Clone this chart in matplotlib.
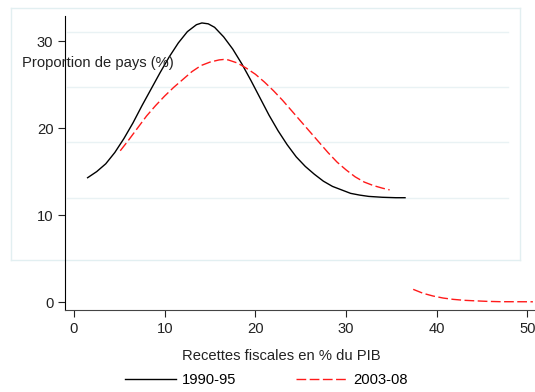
import matplotlib
matplotlib.use("Agg")
import matplotlib.pyplot as plt
from matplotlib.lines import Line2D

plt.rcParams['font.family'] = ['Liberation Sans', 'DejaVu Sans']

# 1990-95 curve (black, solid)
x_9095 = [1.5, 2.5, 3.5, 4.5, 5.5, 6.5, 7.5, 8.5, 9.5, 10.5, 11.5, 12.5, 13.5,
          14.1, 14.8, 15.5, 16.5, 17.5, 18.5, 19.5, 20.5, 21.5, 22.5, 23.5,
          24.5, 25.5, 26.5, 27.5, 28.5, 29.5, 30.5, 31.5, 32.5, 34.0, 35.5, 36.5]
y_9095 = [14.3, 15.0, 15.9, 17.2, 18.8, 20.6, 22.6, 24.5, 26.4, 28.2, 29.8, 31.1, 31.9,
          32.1, 32.0, 31.6, 30.5, 29.1, 27.4, 25.5, 23.5, 21.5, 19.7, 18.1,
          16.7, 15.6, 14.7, 13.9, 13.3, 12.9, 12.5, 12.3, 12.15, 12.05, 12.0, 12.0]

# 2003-08 curve (red, dashed)
x_0308 = [5.1, 6, 7, 8, 9, 10, 11, 12, 13, 14, 15, 16, 16.5, 17, 18, 19, 20, 21,
          22, 23, 24, 25, 26, 27, 28, 29, 30, 31, 32, 33, 34, 34.8]
y_0308 = [17.4, 18.6, 20.0, 21.4, 22.6, 23.7, 24.7, 25.6, 26.5, 27.2, 27.6, 27.85,
          27.9, 27.85, 27.5, 26.9, 26.2, 25.3, 24.3, 23.2, 22.0, 20.8, 19.6, 18.4,
          17.2, 16.1, 15.2, 14.4, 13.8, 13.4, 13.1, 12.9]

# 2003-08 tail near zero
x_tail = [37.4, 38.5, 39.6, 40.7, 41.8, 43.0, 44.0, 45.5, 47.0, 50.6]
y_tail = [1.46, 1.0, 0.69, 0.46, 0.31, 0.2, 0.15, 0.08, 0.04, 0.03]

x_ticks = [0, 10, 20, 30, 40, 50]
y_ticks = [0, 10, 20, 30]
grid_levels = [0.246, 0.467, 0.685, 0.904]

W, H = 535, 392
FS = 10.6
RED = '#ff1a1a'
DASH = (7, 2.5)
fig = plt.figure(figsize=(W / 100, H / 100), dpi=100)

# faint overlay box with its own gridlines
box_l, box_t, box_r, box_b = 10.7, 8, 520.3, 260
ov = fig.add_axes([box_l / W, 1 - box_b / H, (box_r - box_l) / W, (box_b - box_t) / H])
ov.set_xlim(0, 1)
ov.set_ylim(0, 1)
ov.set_xticks([])
ov.set_yticks([])
for s in ov.spines.values():
    s.set_color('#e2eff1')
    s.set_linewidth(1.0)
ov.patch.set_alpha(0)
for g in grid_levels:
    ov.axhline(g, xmin=0.11, xmax=0.975, color='#e9f2f4', linewidth=1.0)

# main axes
ax_l, ax_r, ax_t, ax_b = 65.3, 535, 16, 310.3
ax = fig.add_axes([ax_l / W, 1 - ax_b / H, (ax_r - ax_l) / W, (ax_b - ax_t) / H])
ax.patch.set_alpha(0)
ax.set_xlim(-0.96, 50.83)
ax.set_ylim(-0.95, 32.9)

ax.plot(x_9095, y_9095, color='black', linewidth=1.0)
ax.plot(x_0308, y_0308, color=RED, linewidth=1.0, dashes=DASH)
ax.plot(x_tail, y_tail, color=RED, linewidth=1.0, dashes=DASH)

ax.set_xticks(x_ticks)
ax.set_yticks(y_ticks)
ax.tick_params(labelsize=FS, length=5, width=0.8, colors='#222222')
ax.spines['top'].set_visible(False)
ax.spines['right'].set_visible(False)
ax.spines['left'].set_color('black')
ax.spines['bottom'].set_color('#444444')

fig.text(22 / W, 1 - 63 / H, 'Proportion de pays (%)', fontsize=FS,
         ha='left', va='center', color='#222222')
fig.text(281 / W, 1 - 356 / H, 'Recettes fiscales en % du PIB', fontsize=FS,
         ha='center', va='center', color='#222222')

handles = [Line2D([], [], color='black', linewidth=1.0),
           Line2D([], [], color=RED, linewidth=1.0, dashes=DASH)]
fig.legend(handles, ['1990-95', '2003-08'], loc='center', ncol=2,
           bbox_to_anchor=(266 / W, 1 - 380 / H), frameon=False, fontsize=FS,
           handlelength=3.5, handletextpad=0.35, columnspacing=4.1)

fig.savefig('out.png', dpi=100)
